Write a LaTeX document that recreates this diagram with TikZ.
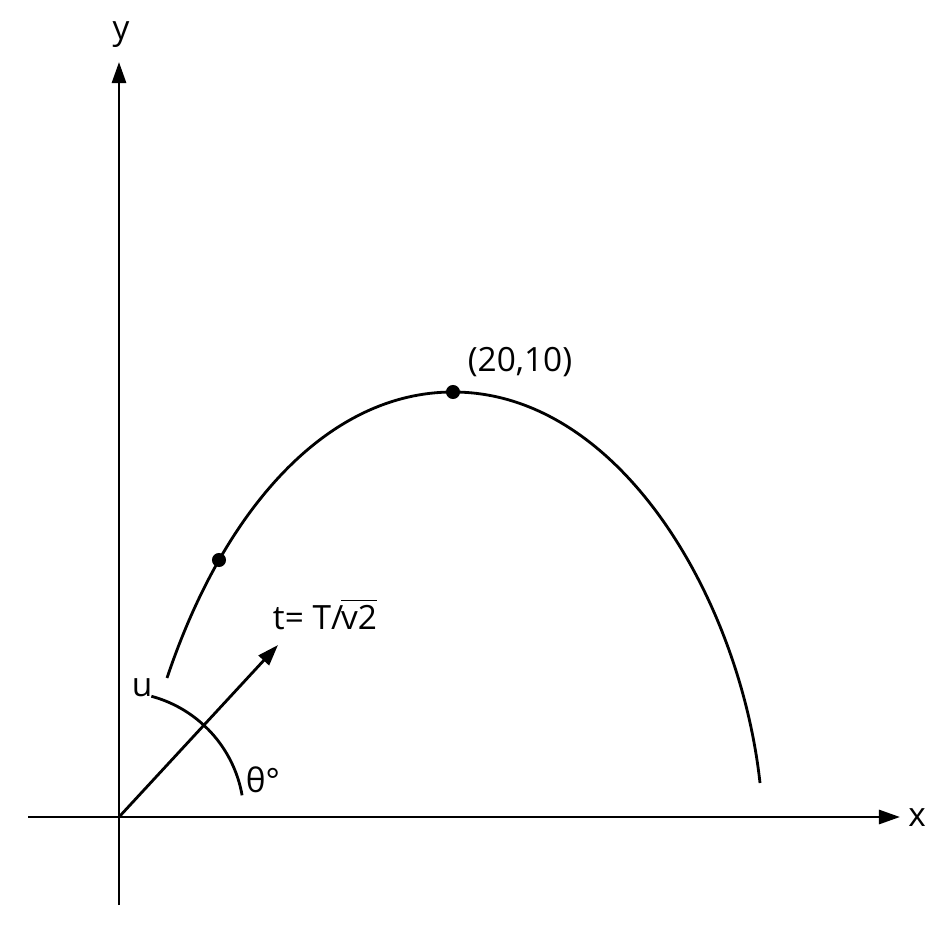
\documentclass[tikz,border=0pt]{standalone}
\usepackage{fontspec}
\setmainfont{Open Sans}
\usetikzlibrary{arrows.meta}
\tikzset{
  axisarrow/.style={-{Triangle[length=6pt,width=4pt]}},
  lbl/.style={font=\fontsize{9.5}{11}\selectfont, inner sep=0pt}
}
\begin{document}
\begin{tikzpicture}[x=0.01cm,y=0.01cm,line width=0.8pt]
\useasboundingbox[fill=white] (0,0) rectangle (949,930);

\coordinate (O) at (119,113);
\coordinate (ybot) at (119,25);
\coordinate (ytop) at (119,868);
\coordinate (xleft) at (28,113);
\coordinate (xright) at (900,113);

% axes
\draw[axisarrow] (ybot) -- (ytop);
\draw[axisarrow] (xleft) -- (xright);
\node[lbl] (ylab) at (121,895) {y};
\node[lbl] (xlab) at (917,112) {x};

% path of the projectile
\coordinate (launch) at (167,252);
\coordinate (top) at (453,538);
\coordinate (land) at (760,147);
\draw (launch) .. controls (225,425) and (330,538) .. (top)
               .. controls (620,538) and (740,330) .. (land);
  \fill (219,370) circle (2pt);
  \fill (top) circle (2pt);
\node[lbl] (toplab) at (520,568) {(20,10)};

% velocity and angle
\coordinate (vtip) at (278,285);
\draw[axisarrow] (O) -- (vtip);
\node[lbl] (tlab) at (325,316) {t= T/\kern-0.6pt$\overline{\hbox{v2}}$};
\draw (O) ++(75:125) arc[start angle=75, end angle=10, radius=125];
\node[lbl] (ulab) at (142,242) {u};
\node[lbl] (thlab) at (263,150) {θ°};
\end{tikzpicture}
\end{document}
